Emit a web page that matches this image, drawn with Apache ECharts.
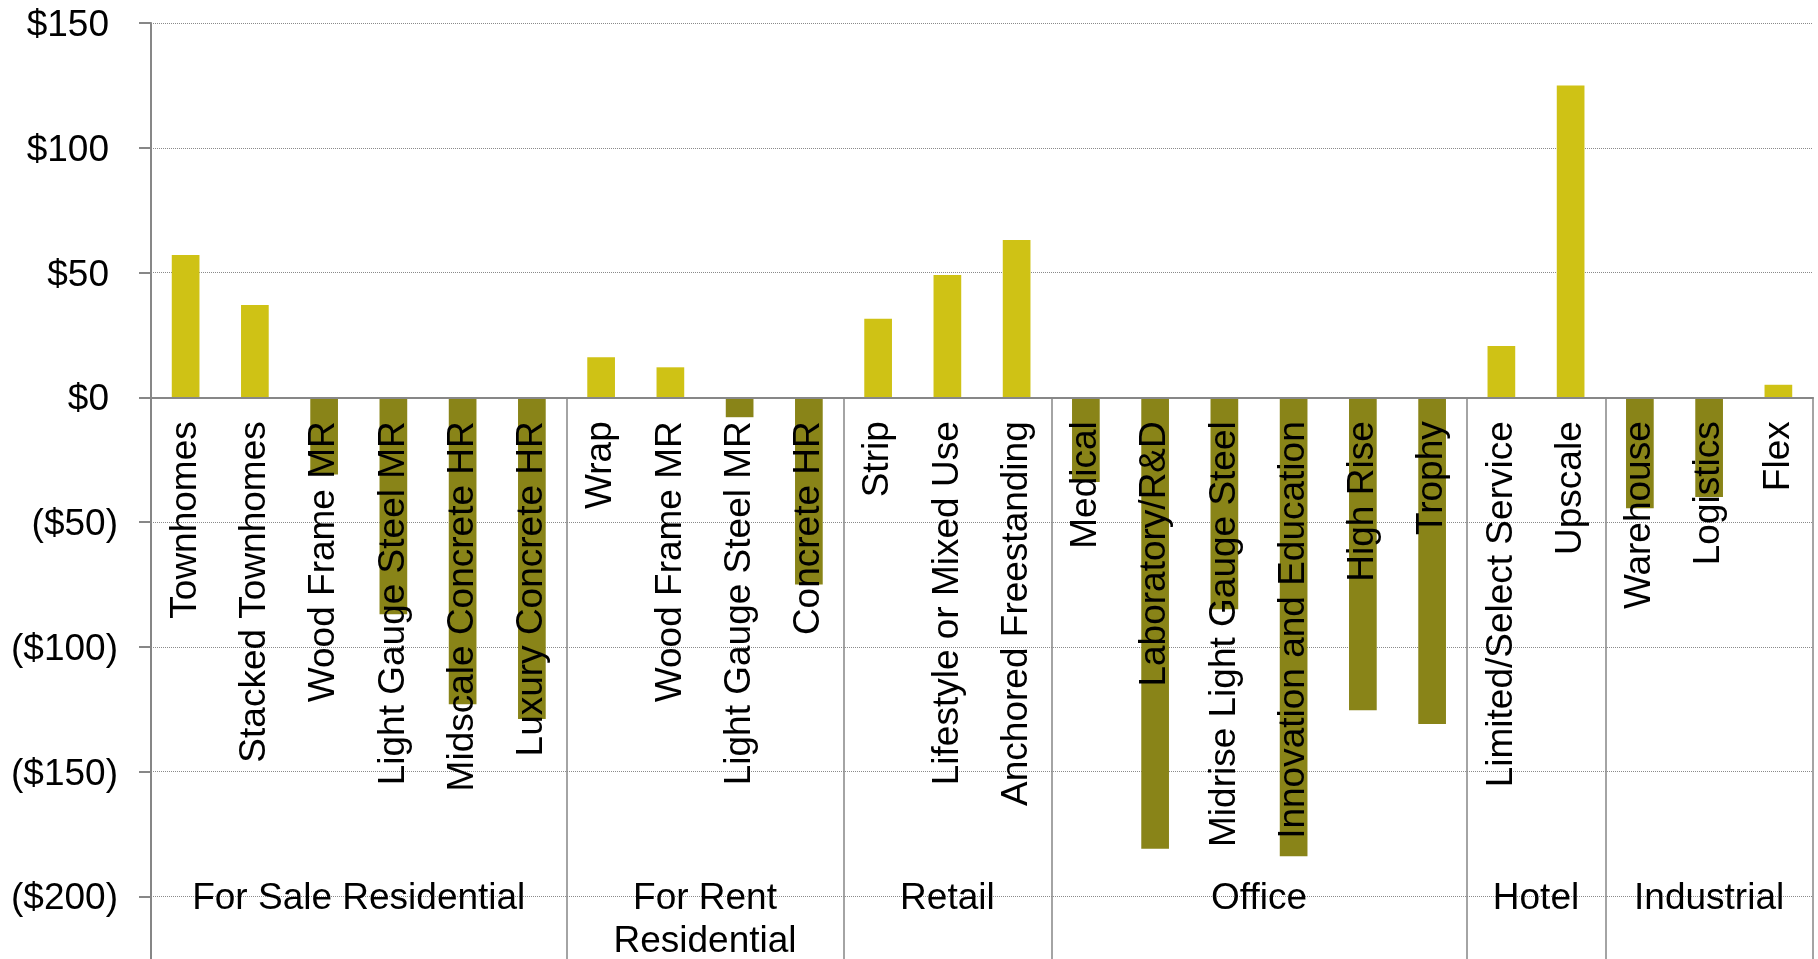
<!DOCTYPE html>
<html>
<head>
<meta charset="utf-8">
<title>Value by Product Type</title>
<script src="https://cdn.jsdelivr.net/npm/echarts@6/dist/echarts.min.js"></script>
<style>
  html, body { margin: 0; padding: 0; background: #ffffff; }
  #chart { width: 1818px; height: 959px; }
</style>
</head>
<body>
<div id="chart"></div>
<script>
// Product types, in display order
const categories = [
  'Townhomes', 'Stacked Townhomes', 'Wood Frame MR', 'Light Gauge Steel MR',
  'Midscale Concrete HR', 'Luxury Concrete HR',
  'Wrap', 'Wood Frame MR', 'Light Gauge Steel MR', 'Concrete HR',
  'Strip', 'Lifestyle or Mixed Use', 'Anchored Freestanding',
  'Medical', 'Laboratory/R&D', 'Midrise Light Gauge Steel',
  'Innovation and Education', 'High Rise', 'Trophy',
  'Limited/Select Service', 'Upscale',
  'Warehouse', 'Logistics', 'Flex'
];

// Value per product type ($)
const values = [
  57, 37, -31, -87, -123, -129,
  16, 12, -8, -75,
  31.5, 49, 63,
  -34, -181, -85, -184, -125.5, -131,
  20.5, 125,
  -44.5, -40, 5
];

// Sector groups and how many product types each holds
const groupNames = ['For Sale Residential', 'For Rent\nResidential', 'Retail', 'Office', 'Hotel', 'Industrial'];
const groupSizes = [6, 4, 3, 6, 2, 3];

// Y axis ticks
const yMin = -250, yMax = 150, yStep = 50;

const FONT = "'Liberation Sans', Arial, sans-serif";
const POS_COLOR = '#CFC215';
const NEG_COLOR = '#898418';
const AXIS_GRAY = '#878787';

// Plot box
const GRID_TOP = 23;
const GRID_HEIGHT = 998;
// Distance from the bottom of the plot box up to the $0 line
const zeroOffset = -GRID_HEIGHT * (0 - yMin) / (yMax - yMin);

// Group boundaries and centres along the category index scale
const groupEdges = [0];
groupSizes.forEach(function (n) { groupEdges.push(groupEdges[groupEdges.length - 1] + n); });
const groupCenters = groupSizes.map(function (n, i) { return groupEdges[i] + n / 2; });

function moneyLabel(v) {
  if (v >= 0) return '{pos|$' + v + '}';
  return '($' + (-v) + ')';
}

const chart = echarts.init(document.getElementById('chart'), null, { renderer: 'canvas' });

chart.setOption({
  backgroundColor: '#ffffff',
  animation: false,
  grid: {
    left: 151,
    right: 5,
    top: GRID_TOP,
    height: GRID_HEIGHT,
    containLabel: false,
    outerBoundsMode: 'none'
  },
  xAxis: [
    {
      type: 'category',
      data: categories,
      position: 'bottom',
      offset: zeroOffset,
      z: 10,
      axisLine: { show: true, onZero: false, lineStyle: { color: AXIS_GRAY, width: 2 } },
      axisTick: { show: false },
      axisLabel: {
        interval: 0,
        rotate: 90,
        margin: 24,
        padding: [6, 0, 0, 0],
        fontSize: 37,
        fontFamily: FONT,
        color: '#000000'
      },
      splitLine: { show: false }
    },
    {
      // Sector grouping: separators and group names
      type: 'value',
      min: 0,
      max: groupEdges[groupEdges.length - 1],
      position: 'bottom',
      offset: zeroOffset,
      z: 10,
      axisLine: { show: false, onZero: false },
      axisTick: {
        show: true,
        inside: false,
        length: 600,
        customValues: groupEdges,
        lineStyle: { color: AXIS_GRAY, width: 1.5 }
      },
      axisLabel: {
        show: true,
        customValues: groupCenters,
        margin: 480,
        fontSize: 37,
        lineHeight: 43,
        fontFamily: FONT,
        color: '#000000',
        align: 'center',
        formatter: function (v) {
          for (let i = 0; i < groupCenters.length; i++) {
            if (Math.abs(groupCenters[i] - v) < 1e-6) return groupNames[i];
          }
          return '';
        }
      },
      splitLine: { show: false }
    }
  ],
  yAxis: {
    type: 'value',
    min: yMin,
    max: yMax,
    interval: yStep,
    axisLine: { show: true, lineStyle: { color: AXIS_GRAY, width: 2 } },
    axisTick: { show: true, inside: false, length: 12, lineStyle: { color: AXIS_GRAY, width: 2 } },
    axisLabel: {
      margin: 33,
      padding: [6, 0, 0, 0],
      fontSize: 37,
      fontFamily: FONT,
      color: '#000000',
      formatter: moneyLabel,
      rich: {
        pos: { fontSize: 37, fontFamily: FONT, color: '#000000', padding: [0, 9, 0, 0] }
      }
    },
    splitLine: {
      show: true,
      lineStyle: { color: '#8a8a8a', width: 1, type: [1, 1] }
    }
  },
  series: [
    {
      type: 'bar',
      xAxisIndex: 0,
      yAxisIndex: 0,
      data: values,
      barWidth: '40%',
      itemStyle: {
        color: function (p) { return p.value >= 0 ? POS_COLOR : NEG_COLOR; }
      }
    }
  ]
});
</script>
</body>
</html>
